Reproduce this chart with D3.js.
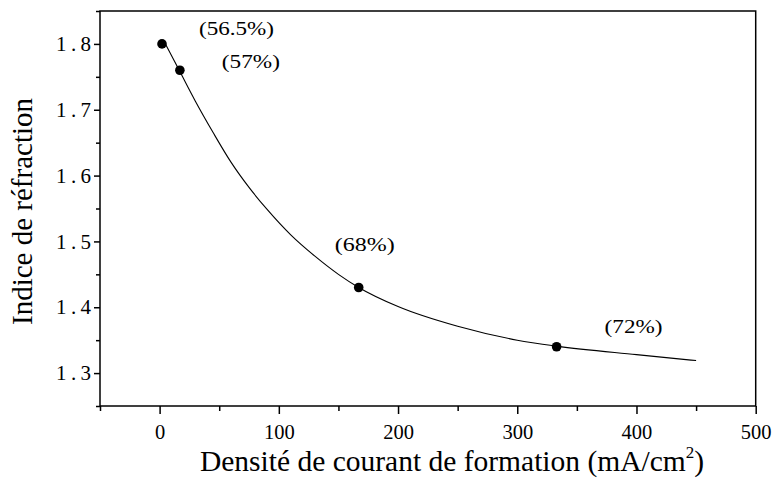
<!DOCTYPE html>
<html>
<head>
<meta charset="utf-8">
<script src="https://cdn.jsdelivr.net/npm/d3@7"></script>
<style>
  html, body { margin: 0; padding: 0; background: #fff; }
  svg { display: block; }
  text { font-family: "Liberation Serif", "Times New Roman", serif; fill: #000; }
</style>
</head>
<body>
<svg id="chart" width="773" height="482" font-family="Liberation Serif, Times New Roman, serif"></svg>
<script>
// ---- data ----
const pointX = [2, 17, 167, 333];
const pointY = [1.80, 1.76, 1.43, 1.34];
const pointLabels = ["(56.5%)", "(57%)", "(68%)", "(72%)"];

const curveX = [4, 17, 30, 45, 60, 75, 90, 110, 130, 150, 167, 200, 250, 300, 333, 400, 450];
const curveY = [1.803, 1.758, 1.713, 1.665, 1.620, 1.582, 1.549, 1.510, 1.478, 1.450, 1.430, 1.401, 1.371, 1.350, 1.341, 1.328, 1.319];

const xMajorTicks = [0, 100, 200, 300, 400, 500];
const xMinorTicks = [-50, 50, 150, 250, 350, 450];
const yMajorTicks = [1.3, 1.4, 1.5, 1.6, 1.7, 1.8];
const yMinorTicks = [1.25, 1.35, 1.45, 1.55, 1.65, 1.75, 1.85];

const xTitle = "Densité de courant de formation (mA/cm";
const yTitle = "Indice de réfraction";

// ---- layout ----
const L = 100, R = 755.7, T = 11, B = 406;
const FONT = "Liberation Serif, Times New Roman, serif";
const svg = d3.select("#chart");

const x = d3.scaleLinear().domain([-50, 500]).range([L, R]);
const y = d3.scaleLinear().domain([1.25, 1.85]).range([B, T]);

// frame
svg.append("rect")
  .attr("x", L).attr("y", T).attr("width", R - L).attr("height", B - T)
  .attr("fill", "none").attr("stroke", "#000").attr("stroke-width", 1.5);

function styleAxis(g) {
  g.attr("font-family", FONT);
  g.select(".domain").remove();
  g.selectAll(".tick line").attr("stroke", "#000").attr("stroke-width", 1.5);
}

// x axis
svg.append("g").attr("transform", `translate(0,${B})`)
  .call(d3.axisBottom(x).tickValues(xMajorTicks).tickSize(8).tickPadding(10).tickFormat(d3.format("d")))
  .call(styleAxis)
  .call(g => g.selectAll(".tick text").attr("font-size", 20.5));
svg.append("g").attr("transform", `translate(0,${B})`)
  .call(d3.axisBottom(x).tickValues(xMinorTicks).tickSize(5).tickFormat(""))
  .call(styleAxis);

// y axis
svg.append("g").attr("transform", `translate(${L},0)`)
  .call(d3.axisLeft(y).tickValues(yMajorTicks).tickSize(6).tickPadding(3).tickFormat(d3.format(".1f")))
  .call(styleAxis)
  .call(g => g.selectAll(".tick text").attr("font-size", 21)
    .attr("textLength", 35).attr("lengthAdjust", "spacing"));
svg.append("g").attr("transform", `translate(${L},0)`)
  .call(d3.axisLeft(y).tickValues(yMinorTicks).tickSize(4).tickFormat(""))
  .call(styleAxis);

// fitted curve
const curveData = curveX.map((v, i) => [v, curveY[i]]);
svg.append("path")
  .datum(curveData)
  .attr("fill", "none").attr("stroke", "#000").attr("stroke-width", 1.1)
  .attr("d", d3.line().x(d => x(d[0])).y(d => y(d[1])).curve(d3.curveMonotoneX));

// points
const pts = pointX.map((v, i) => ({ x: v, y: pointY[i], label: pointLabels[i] }));
svg.selectAll("circle.pt").data(pts).enter().append("circle")
  .attr("class", "pt")
  .attr("cx", d => x(d.x)).attr("cy", d => y(d.y)).attr("r", 4.8)
  .attr("fill", "#000");

// annotation labels (offset from each point, in px)
const labelOffsets = [[37, -9], [42, -2], [-24, -37], [48, -14]];
const labelWidths = [75, 58, 60, 58];
svg.selectAll("text.lab").data(pts).enter().append("text")
  .attr("class", "lab")
  .attr("x", (d, i) => x(d.x) + labelOffsets[i][0])
  .attr("y", (d, i) => y(d.y) + labelOffsets[i][1])
  .attr("font-size", 19)
  .attr("textLength", (d, i) => labelWidths[i])
  .attr("lengthAdjust", "spacingAndGlyphs")
  .text(d => d.label);

// axis titles
const xt = svg.append("text")
  .attr("x", 452).attr("y", 471)
  .attr("text-anchor", "middle").attr("font-size", 29.5);
xt.append("tspan").text(xTitle);
xt.append("tspan").attr("font-size", 17).attr("dy", -13).text("2");
xt.append("tspan").attr("dy", 13).text(")");

svg.append("text")
  .attr("transform", `translate(32,${(T + B) / 2 + 3}) rotate(-90)`)
  .attr("text-anchor", "middle").attr("font-size", 29)
  .text(yTitle);
</script>
</body>
</html>
